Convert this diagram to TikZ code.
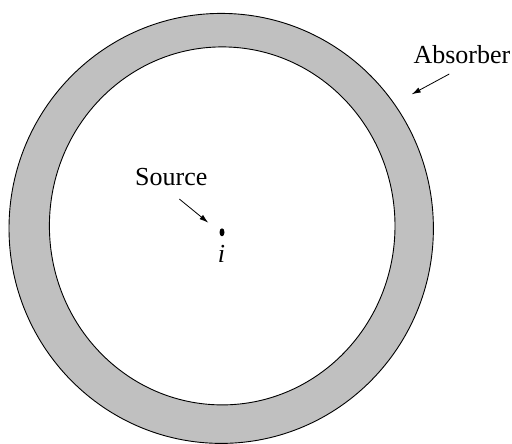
\documentclass[tikz,border=0pt]{standalone}
\usepackage{fontspec}
\setmainfont{Liberation Serif}
\usetikzlibrary{arrows.meta,shapes.geometric}
\begin{document}
\begin{tikzpicture}[x=1pt,y=-1pt,
  lbl/.style={font=\fontsize{26}{28}\selectfont, inner sep=0pt},
  pointer/.style={line width=0.8pt, -{Latex[length=9pt,width=5.5pt]}}]
\useasboundingbox (0,0) rectangle (512,444);
\fill[fill={rgb,255:red,192;green,192;blue,192}, even odd rule]
  (221.2,228.4) ellipse [x radius=212.2, y radius=215]
  (222.2,225.9) ellipse [x radius=172.8, y radius=179];
\draw[line width=0.9pt] (221.2,228.4) ellipse [x radius=212.2, y radius=215];
\draw[line width=0.9pt] (222.2,225.9) ellipse [x radius=172.8, y radius=179];
\node[fill, ellipse, minimum width=5pt, minimum height=8pt, inner sep=0pt] (dot) at (222,232.3) {};
\node[lbl, anchor=base] (ilbl) at (221.5,262.5) {\textit{i}};
\node[lbl, anchor=base west] (src) at (135,185.5) {Source};
\node[lbl, anchor=base west] (abs) at (413.3,63.5) {Absorber};
\coordinate (s0) at (179.3,199);
\coordinate (s1) at (208.3,222.7);
\coordinate (a0) at (449.3,74);
\coordinate (a1) at (411.7,94.3);
\draw[pointer] (s0) -- (s1);
\draw[pointer] (a0) -- (a1);
\end{tikzpicture}
\end{document}
